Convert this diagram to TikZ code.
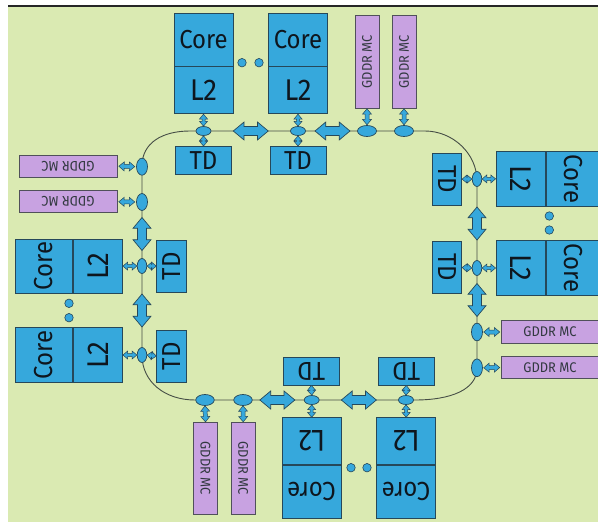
\documentclass[tikz,border=0pt]{standalone}
\usepackage{fontspec}
\setmainfont{Fira Sans}
\newfontfamily\chipfont[FakeStretch=0.92]{Fira Sans}
\usetikzlibrary{calc,positioning,shapes.geometric}

\definecolor{board}{RGB}{218,234,178}
\definecolor{chip}{RGB}{54,168,220}
\definecolor{chipline}{RGB}{38,72,90}
\definecolor{memfill}{RGB}{200,162,225}
\definecolor{memline}{RGB}{80,80,90}
\definecolor{ringline}{RGB}{70,78,70}
\definecolor{ink}{RGB}{14,22,30}

\newcommand{\arrpt}[2]{({\x3+(#1)*(\n2)-(#2)*(\n3)},{\y3+(#1)*(\n3)+(#2)*(\n2)})}
\newcommand{\blockarrow}[6][]{%
  \draw[#1] let \p1=(#2), \p2=(#3), \p3=($(#2)!0.5!(#3)$),
    \n1={veclen(\x2-\x1,\y2-\y1)}, \n2={(\x2-\x1)/\n1}, \n3={(\y2-\y1)/\n1},
    \n4={min(\n1,#4)/2}, \n5={#5}, \n6={#6}, \n7={1.2*#6} in
    \arrpt{-\n4}{0} -- \arrpt{-\n4+\n7}{\n6} -- \arrpt{-\n4+\n7}{\n5}
    -- \arrpt{\n4-\n7}{\n5} -- \arrpt{\n4-\n7}{\n6} -- \arrpt{\n4}{0}
    -- \arrpt{\n4-\n7}{-\n6} -- \arrpt{\n4-\n7}{-\n5}
    -- \arrpt{-\n4+\n7}{-\n5} -- \arrpt{-\n4+\n7}{-\n6} -- cycle;}

\begin{document}
\begin{tikzpicture}[x=1pt,y=1pt]
\tikzstyle{cell}=[rectangle,draw=chipline,fill=chip,line width=0.8pt,inner sep=0pt,text=ink,font=\chipfont\fontsize{26}{26}\selectfont]
\tikzstyle{cachecell}=[cell,font=\chipfont\fontsize{30}{30}\selectfont]
\tikzstyle{memcell}=[rectangle,draw=memline,fill=memfill,line width=0.8pt,inner sep=0pt,text=ink!85,font=\chipfont\fontsize{14}{14}\selectfont]
\tikzstyle{ringtap}=[ellipse,draw=chipline,fill=chip,line width=0.7pt,inner sep=0pt]
\tikzstyle{gapdot}=[circle,draw=chipline,fill=chip,line width=0.6pt,inner sep=0pt,minimum size=8.5pt]
\tikzstyle{portarrow}=[draw=chipline,fill=chip,line width=0.5pt]
\tikzstyle{busarrow}=[draw=chipline,fill=chip,line width=0.7pt]

\useasboundingbox (0,0) rectangle (598,-522);
\fill[board] (8,-6) rectangle (598,-522);
\draw[line width=2pt,black!85] (8,-6) -- (598,-6);

\draw[ringline,line width=0.9pt] (142,-166) .. controls (142,-143) and (162,-131) .. (190,-131)
  -- (425,-131) .. controls (452.6,-131) and (477,-153.4) .. (477,-181)
  -- (477,-368) .. controls (477,-390) and (450,-400) .. (415,-400)
  -- (195,-400) .. controls (165,-400) and (142,-382) .. (142,-355) -- cycle;

\node[cell,minimum width=59pt,minimum height=53pt] (C1) at (203.5,-39.5) {Core};
\node[cachecell,minimum width=59pt,minimum height=47pt,below=0pt of C1] (L1) {L2};
\node[cell,minimum width=59pt,minimum height=53pt] (C2) at (298,-39.5) {Core};
\node[cachecell,minimum width=59pt,minimum height=47pt,below=0pt of C2] (L2) {L2};
\node[ringtap,minimum width=15pt,minimum height=9pt] (E1) at (203.5,-131) {};
\node[ringtap,minimum width=15pt,minimum height=9pt] (E2) at (298,-131) {};
\node[cell,minimum width=56pt,minimum height=27.6pt,below=10.2pt of E1] (T1) {TD};
\node[cell,minimum width=56pt,minimum height=27.6pt,below=10.2pt of E2] (T2) {TD};
\node[memcell,minimum width=24pt,minimum height=92.3pt] (M1) at (367,-61.85) {\rotatebox{90}{GDDR MC}};
\node[memcell,minimum width=24pt,minimum height=92.3pt] (M2) at (404,-61.85) {\rotatebox{90}{GDDR MC}};
\node[ringtap,minimum width=19pt,minimum height=11pt] (G1) at (367,-131) {};
\node[ringtap,minimum width=19pt,minimum height=11pt] (G2) at (404,-131) {};
\node[gapdot] (D1) at (242,-62.7) {};
\node[gapdot] (D2) at (259,-62.7) {};

\node[memcell,minimum width=98pt,minimum height=22.3pt] (M3) at (68,-166.15) {\rotatebox{180}{GDDR MC}};
\node[memcell,minimum width=98pt,minimum height=22.3pt] (M4) at (68,-201.7) {\rotatebox{180}{GDDR MC}};
\node[ringtap,minimum width=11pt,minimum height=17pt] (G3) at (142,-166.7) {};
\node[ringtap,minimum width=11pt,minimum height=17pt] (G4) at (142,-202) {};
\node[cell,minimum width=57.7pt,minimum height=54.3pt] (C3) at (43.85,-266.15) {\rotatebox{90}{Core}};
\node[cachecell,minimum width=49pt,minimum height=54.3pt,right=0pt of C3] (L3) {\rotatebox{90}{L2}};
\node[cell,minimum width=57.7pt,minimum height=54.3pt] (C4) at (43.85,-355) {\rotatebox{90}{Core}};
\node[cachecell,minimum width=49pt,minimum height=54.3pt,right=0pt of C4] (L4) {\rotatebox{90}{L2}};
\node[ringtap,minimum width=9.5pt,minimum height=15pt] (E3) at (142,-266) {};
\node[ringtap,minimum width=9.5pt,minimum height=15pt] (E4) at (142,-355) {};
\node[cell,minimum width=29.3pt,minimum height=52.3pt] (T3) at (171.35,-266.15) {\rotatebox{90}{TD}};
\node[cell,minimum width=29.3pt,minimum height=52.3pt] (T4) at (171.35,-356.15) {\rotatebox{90}{TD}};
\node[gapdot] (D3) at (69,-303.3) {};
\node[gapdot] (D4) at (69,-317.7) {};

\node[cell,minimum width=29.4pt,minimum height=51.7pt] (T5) at (447,-179.15) {\rotatebox{-90}{TD}};
\node[cell,minimum width=29.4pt,minimum height=51.7pt] (T6) at (447,-267.5) {\rotatebox{-90}{TD}};
\node[ringtap,minimum width=9.5pt,minimum height=15pt] (E5) at (477,-179) {};
\node[ringtap,minimum width=9.5pt,minimum height=15pt] (E6) at (477,-268) {};
\node[cachecell,minimum width=49.7pt,minimum height=54.3pt] (L5) at (520.85,-178.85) {\rotatebox{-90}{L2}};
\node[cell,minimum width=53pt,minimum height=54.3pt,right=0pt of L5] (C5) {\rotatebox{-90}{Core}};
\node[cachecell,minimum width=49.7pt,minimum height=54.3pt] (L6) at (520.85,-268) {\rotatebox{-90}{L2}};
\node[cell,minimum width=53pt,minimum height=54.3pt,right=0pt of L6] (C6) {\rotatebox{-90}{Core}};
\node[gapdot] (D5) at (549.3,-216) {};
\node[gapdot] (D6) at (549.3,-230) {};
\node[ringtap,minimum width=11pt,minimum height=17.7pt] (G5) at (477,-332) {};
\node[ringtap,minimum width=11pt,minimum height=17.7pt] (G6) at (477,-367.8) {};
\node[memcell,minimum width=98pt,minimum height=22.6pt] (M5) at (550,-332) {GDDR MC};
\node[memcell,minimum width=98pt,minimum height=22.6pt] (M6) at (550,-367.5) {GDDR MC};

\node[ringtap,minimum width=18.5pt,minimum height=11pt] (G7) at (205,-400) {};
\node[ringtap,minimum width=18.5pt,minimum height=11pt] (G8) at (243,-400) {};
\node[memcell,minimum width=24.4pt,minimum height=92pt] (M7) at (205.5,-468.3) {\rotatebox{-90}{GDDR MC}};
\node[memcell,minimum width=24.4pt,minimum height=92pt] (M8) at (243.2,-468.3) {\rotatebox{-90}{GDDR MC}};
\node[ringtap,minimum width=15pt,minimum height=9pt] (E7) at (311.7,-400) {};
\node[ringtap,minimum width=15pt,minimum height=9pt] (E8) at (406,-400) {};
\node[cell,minimum width=56pt,minimum height=27.7pt] (T7) at (311.3,-371.15) {\rotatebox{180}{TD}};
\node[cell,minimum width=56pt,minimum height=27.7pt] (T8) at (406.3,-371.15) {\rotatebox{180}{TD}};
\node[cachecell,minimum width=58.7pt,minimum height=46.6pt] (L7) at (311.65,-441) {\rotatebox{180}{L2}};
\node[cell,minimum width=58.7pt,minimum height=53pt,below=0pt of L7] (C7) {\rotatebox{180}{Core}};
\node[cachecell,minimum width=58.7pt,minimum height=46.6pt] (L8) at (406.2,-441) {\rotatebox{180}{L2}};
\node[cell,minimum width=58.7pt,minimum height=53pt,below=0pt of L8] (C8) {\rotatebox{180}{Core}};
\node[gapdot] (D7) at (351,-467.7) {};
\node[gapdot] (D8) at (367,-467.7) {};

\blockarrow[busarrow]{E1}{E2}{35}{4.5}{9}
\blockarrow[busarrow]{E2}{G1}{35}{4.5}{9}
\blockarrow[busarrow]{G4}{E3}{33}{4.5}{9}
\blockarrow[busarrow]{E3}{E4}{33}{4.5}{9}
\blockarrow[busarrow]{E5}{E6}{33}{4.5}{9}
\blockarrow[busarrow]{E6}{G5}{33}{4.5}{9}
\blockarrow[busarrow]{G8}{E7}{35}{4.5}{9}
\blockarrow[busarrow]{E7}{E8}{35}{4.5}{9}

\blockarrow[portarrow]{L1.south}{E1.north}{99}{1.5}{4}
\blockarrow[portarrow]{E1.south}{T1.north}{99}{1.5}{4}
\blockarrow[portarrow]{L2.south}{E2.north}{99}{1.5}{4}
\blockarrow[portarrow]{E2.south}{T2.north}{99}{1.5}{4}
\blockarrow[portarrow]{M1.south}{G1.north}{16}{2}{4.5}
\blockarrow[portarrow]{M2.south}{G2.north}{16}{2}{4.5}
\blockarrow[portarrow]{M3.east}{G3.west}{16}{2}{4.5}
\blockarrow[portarrow]{M4.east}{G4.west}{16}{2}{4.5}
\blockarrow[portarrow]{L3.east}{E3.west}{99}{1.5}{4}
\blockarrow[portarrow]{E3.east}{T3.west}{99}{1.5}{4}
\blockarrow[portarrow]{L4.east}{E4.west}{99}{1.5}{4}
\blockarrow[portarrow]{E4.east}{T4.west}{99}{1.5}{4}
\blockarrow[portarrow]{T5.east}{E5.west}{99}{1.5}{4}
\blockarrow[portarrow]{E5.east}{L5.west}{99}{1.5}{4}
\blockarrow[portarrow]{T6.east}{E6.west}{99}{1.5}{4}
\blockarrow[portarrow]{E6.east}{L6.west}{99}{1.5}{4}
\blockarrow[portarrow]{G5.east}{M5.west}{16}{2}{4.5}
\blockarrow[portarrow]{G6.east}{M6.west}{16}{2}{4.5}
\blockarrow[portarrow]{G7.south}{M7.north}{16}{2}{4.5}
\blockarrow[portarrow]{G8.south}{M8.north}{16}{2}{4.5}
\blockarrow[portarrow]{T7.south}{E7.north}{99}{1.5}{4}
\blockarrow[portarrow]{E7.south}{L7.north}{99}{1.5}{4}
\blockarrow[portarrow]{T8.south}{E8.north}{99}{1.5}{4}
\blockarrow[portarrow]{E8.south}{L8.north}{99}{1.5}{4}
\end{tikzpicture}
\end{document}
